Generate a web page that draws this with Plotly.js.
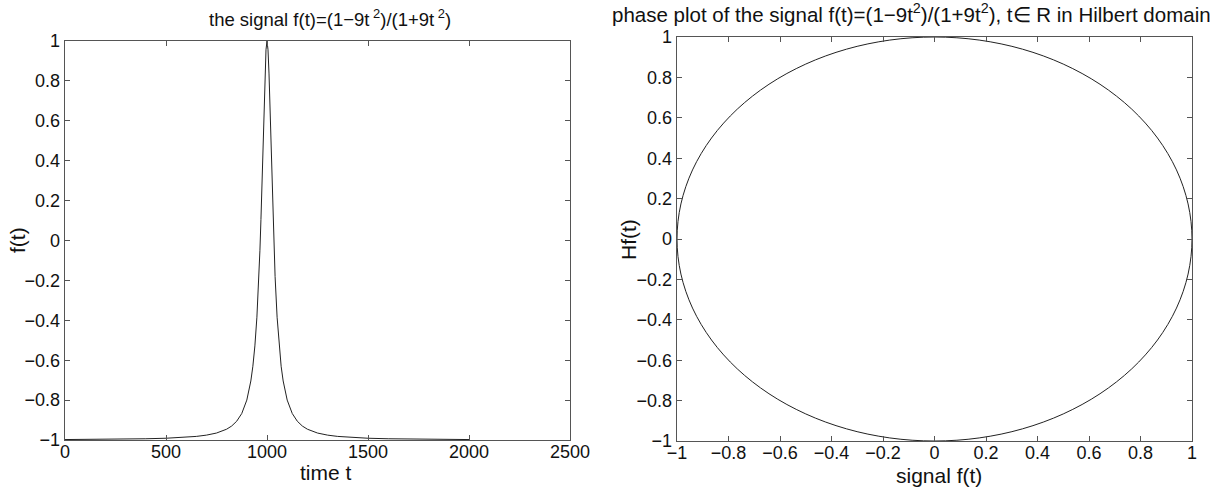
<!DOCTYPE html>
<html>
<head>
<meta charset="utf-8">
<script src="https://cdn.plot.ly/plotly-3.0.1.min.js"></script>
<style>html,body{margin:0;padding:0;background:#fff;}#chart{width:1218px;height:492px;}</style>
</head>
<body>
<div id="chart"></div>
<script>
// Left panel: sample index (time t) and signal value f(t)
const timeT = [0, 100, 200, 300, 400, 500, 600, 650, 700, 750, 800, 825, 850, 875, 900, 910, 920, 930, 940, 950, 960, 965, 970, 975, 980, 985, 990, 995, 1000,
  1005, 1010, 1015, 1020, 1025, 1030, 1035, 1040, 1050, 1060, 1070, 1080, 1090, 1100, 1125, 1150, 1175, 1200, 1250, 1300, 1350, 1400, 1500, 1600, 1700, 1800, 1900, 2000];
const signalF = [-0.9978, -0.9973, -0.9965, -0.9955, -0.9938, -0.9912, -0.9862, -0.9820, -0.9756, -0.9651, -0.9459, -0.9300, -0.9059, -0.8672, -0.8000, -0.7587, -0.7041, -0.6303, -0.5283, -0.3846, -0.1803, -0.0488, 0.1050, 0.2800, 0.4706, 0.6632, 0.8349, 0.9560, 1.0000,
  0.9560, 0.8349, 0.6632, 0.4706, 0.2800, 0.1050, -0.0488, -0.1803, -0.3846, -0.5283, -0.6303, -0.7041, -0.7587, -0.8000, -0.8672, -0.9059, -0.9300, -0.9459, -0.9651, -0.9756, -0.9820, -0.9862, -0.9912, -0.9938, -0.9955, -0.9965, -0.9973, -0.9978];

// Right panel: phase plot points (signal f(t), Hf(t))
const phaseF = [1.0000, 0.9848, 0.9397, 0.8660, 0.7660, 0.6428, 0.5000, 0.3420, 0.1736, 0.0000, -0.1736, -0.3420, -0.5000, -0.6428, -0.7660, -0.8660, -0.9397, -0.9848, -1.0000,
  -0.9848, -0.9397, -0.8660, -0.7660, -0.6428, -0.5000, -0.3420, -0.1736, 0.0000, 0.1736, 0.3420, 0.5000, 0.6428, 0.7660, 0.8660, 0.9397, 0.9848, 1.0000];
const phaseHf = [0.0000, 0.1736, 0.3420, 0.5000, 0.6428, 0.7660, 0.8660, 0.9397, 0.9848, 1.0000, 0.9848, 0.9397, 0.8660, 0.7660, 0.6428, 0.5000, 0.3420, 0.1736, 0.0000,
  -0.1736, -0.3420, -0.5000, -0.6428, -0.7660, -0.8660, -0.9397, -0.9848, -1.0000, -0.9848, -0.9397, -0.8660, -0.7660, -0.6428, -0.5000, -0.3420, -0.1736, 0.0000];

const leftXTicks = [0, 500, 1000, 1500, 2000, 2500];
const unitTicks = [-1, -0.8, -0.6, -0.4, -0.2, 0, 0.2, 0.4, 0.6, 0.8, 1];

const W = 1218, H = 492;
const FONT = 'Liberation Sans, Arial, Helvetica, sans-serif';
const frameColor = '#555555';

function axisBase(extra) {
  return Object.assign({
    showline: true, mirror: 'ticks', linecolor: frameColor, linewidth: 1.3,
    ticks: 'inside', ticklen: 5, tickcolor: frameColor, tickwidth: 1,
    showgrid: false, zeroline: false,
    tickfont: {family: FONT, size: 18, color: '#111'},
    tickmode: 'array', fixedrange: true
  }, extra);
}

const traces = [
  {x: timeT, y: signalF, type: 'scatter', mode: 'lines', line: {color: '#222', width: 1}, xaxis: 'x', yaxis: 'y', hoverinfo: 'skip'},
  {x: phaseF, y: phaseHf, type: 'scatter', mode: 'lines', line: {color: '#222', width: 1, shape: 'spline', smoothing: 1}, xaxis: 'x2', yaxis: 'y2', hoverinfo: 'skip'}
];

const layout = {
  width: W, height: H,
  margin: {l: 0, r: 0, t: 0, b: 0},
  paper_bgcolor: '#fff', plot_bgcolor: '#fff',
  showlegend: false,
  font: {family: FONT, color: '#111'},
  xaxis: axisBase({domain: [65 / W, 570 / W], range: [0, 2500], tickvals: leftXTicks, anchor: 'y', ticklabelstandoff: -5}),
  yaxis: axisBase({domain: [1 - 440 / H, 1 - 41 / H], range: [-1, 1], tickvals: unitTicks, anchor: 'x'}),
  xaxis2: axisBase({domain: [677 / W, 1192 / W], range: [-1, 1], tickvals: unitTicks, anchor: 'y2', ticklabelstandoff: -5}),
  yaxis2: axisBase({domain: [1 - 441 / H, 1 - 37 / H], range: [-1, 1], tickvals: unitTicks, anchor: 'x2'}),
  annotations: [
    {text: 'the signal f(t)=(1\u22129t<sup> 2</sup>)/(1+9t<sup> 2</sup>)', xref: 'paper', yref: 'paper', x: 330 / W, y: 1 - 18 / H, xanchor: 'center', yanchor: 'middle', showarrow: false, font: {family: FONT, size: 18.5, color: '#111'}},
    {text: 'phase plot of the signal f(t)=(1\u22129t<sup>2</sup>)/(1+9t<sup>2</sup>), t\u2208 R in Hilbert domain', xref: 'paper', yref: 'paper', x: 911 / W, y: 1 - 13 / H, xanchor: 'center', yanchor: 'middle', showarrow: false, font: {family: FONT, size: 20.5, color: '#111'}},
    {text: 'time t', xref: 'paper', yref: 'paper', x: 326 / W, y: 1 - 472 / H, xanchor: 'center', yanchor: 'middle', showarrow: false, font: {family: FONT, size: 21, color: '#111'}},
    {text: 'f(t)', xref: 'paper', yref: 'paper', x: 17 / W, y: 1 - 240 / H, xanchor: 'center', yanchor: 'middle', textangle: -90, showarrow: false, font: {family: FONT, size: 21, color: '#111'}},
    {text: 'signal f(t)', xref: 'paper', yref: 'paper', x: 939 / W, y: 1 - 475 / H, xanchor: 'center', yanchor: 'middle', showarrow: false, font: {family: FONT, size: 21, color: '#111'}},
    {text: 'Hf(t)', xref: 'paper', yref: 'paper', x: 628 / W, y: 1 - 240 / H, xanchor: 'center', yanchor: 'middle', textangle: -90, showarrow: false, font: {family: FONT, size: 21, color: '#111'}}
  ]
};

Plotly.newPlot('chart', traces, layout, {staticPlot: true, displayModeBar: false});
</script>
</body>
</html>
